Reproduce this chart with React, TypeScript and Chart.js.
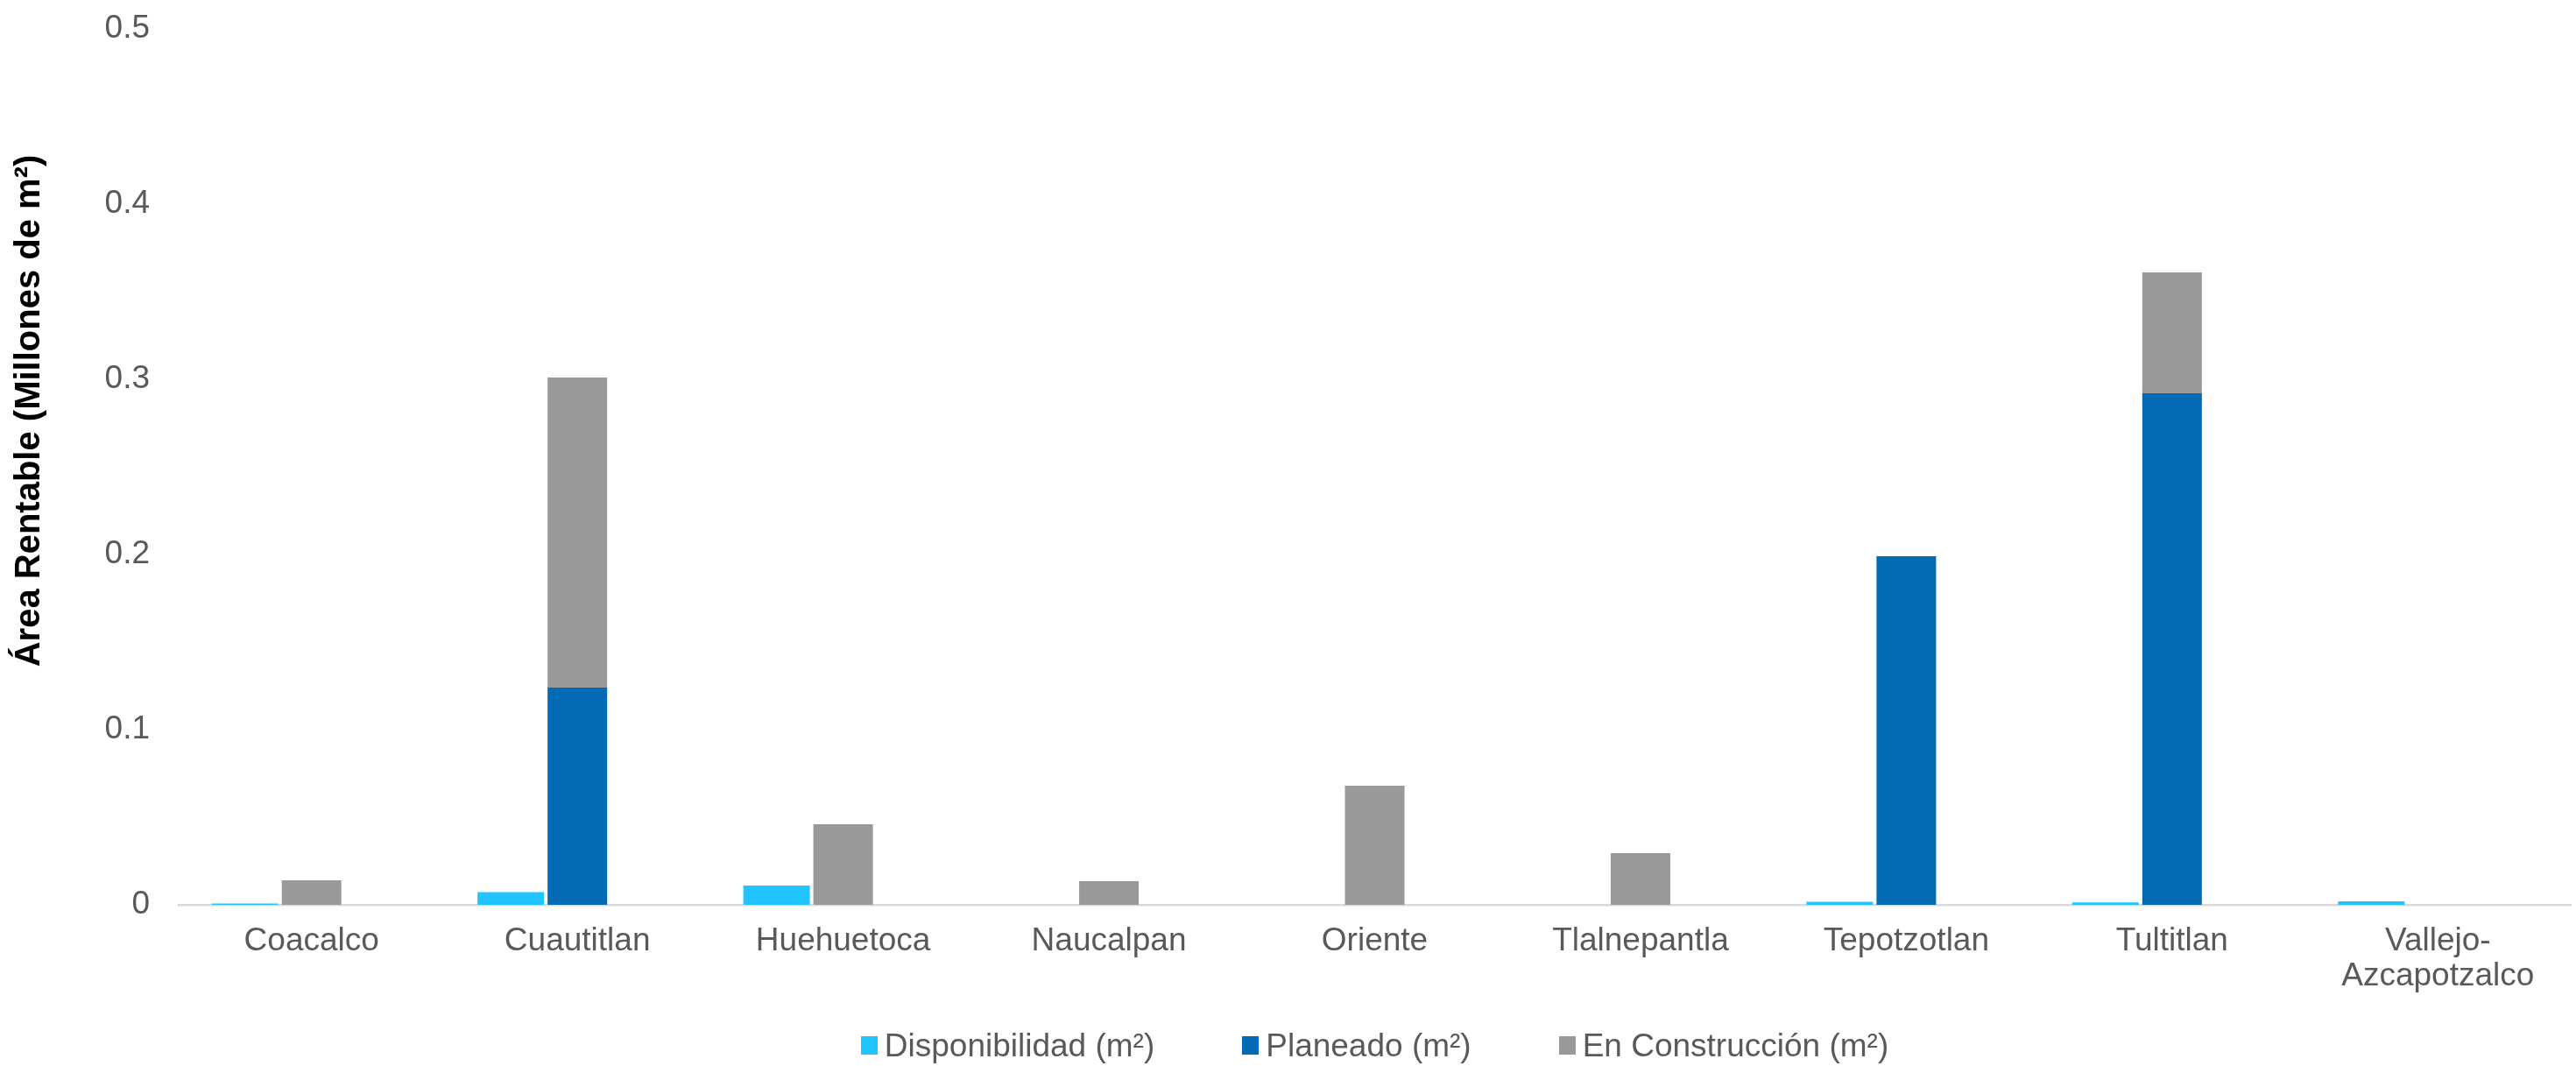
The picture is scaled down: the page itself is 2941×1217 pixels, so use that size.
import React, { useEffect, useRef } from "react";
import { Chart, registerables } from "chart.js";

Chart.register(...registerables);

// Municipalities along the x axis
const categories: (string | string[])[] = [
  "Coacalco",
  "Cuautitlan",
  "Huehuetoca",
  "Naucalpan",
  "Oriente",
  "Tlalnepantla",
  "Tepotzotlan",
  "Tultitlan",
  ["Vallejo-", "Azcapotzalco"],
];

// Rentable area, millions of m²
const disponibilidad = [0.0007, 0.0073, 0.011, 0, 0, 0, 0.0017, 0.0014, 0.002];
const planeado = [0, 0.124, 0, 0, 0, 0, 0.199, 0.292, 0];
const enConstruccion = [0.014, 0.177, 0.046, 0.0135, 0.068, 0.0295, 0, 0.069, 0];

const yTicks = [0, 0.1, 0.2, 0.3, 0.4, 0.5];

const seriesNames = ["Disponibilidad (m²)", "Planeado (m²)", "En Construcción (m²)"];
const seriesColors = ["#22C4FF", "#036BB5", "#999999"];

const FONT = "'Liberation Sans', Arial, sans-serif";
const W = 2941;
const H = 1217;
const AREA_LEFT = 204;
const AREA_RIGHT = 2935;
const AREA_TOP = 33;
const AREA_BOTTOM = 1033;

const yTitlePlugin = {
  id: "yTitle",
  afterDraw(chart: Chart) {
    const ctx = chart.ctx;
    ctx.save();
    ctx.translate(34, 469);
    ctx.rotate(-Math.PI / 2);
    ctx.font = `bold 40px ${FONT}`;
    ctx.fillStyle = "#000000";
    ctx.textAlign = "center";
    ctx.textBaseline = "middle";
    ctx.fillText("Área Rentable (Millones de m²)", 0, 0);
    ctx.restore();
  },
};

export default function App() {
  const canvasRef = useRef<HTMLCanvasElement | null>(null);

  useEffect(() => {
    document.body.style.margin = "0";
    const canvas = canvasRef.current;
    if (!canvas) return;
    const chart = new Chart(canvas, {
      type: "bar",
      data: {
        labels: categories,
        datasets: [
          {
            label: seriesNames[0],
            data: disponibilidad,
            backgroundColor: seriesColors[0],
            stack: "disp",
            categoryPercentage: 0.7513,
            barPercentage: 1.0,
          },
          {
            label: seriesNames[1],
            data: planeado,
            backgroundColor: seriesColors[1],
            stack: "proy",
            categoryPercentage: 0.7513,
            barPercentage: 0.895,
          },
          {
            label: seriesNames[2],
            data: enConstruccion,
            backgroundColor: seriesColors[2],
            stack: "proy",
            categoryPercentage: 0.7513,
            barPercentage: 0.895,
          },
          {
            label: "",
            data: categories.map(() => null),
            backgroundColor: "rgba(0,0,0,0)",
            stack: "vacio",
            categoryPercentage: 0.7513,
            barPercentage: 0.895,
          },
        ],
      },
      options: {
        responsive: false,
        animation: false,
        layout: { padding: { top: AREA_TOP, right: W - AREA_RIGHT, left: 0, bottom: 0 } },
        plugins: {
          legend: { display: false },
          tooltip: { enabled: false },
          title: { display: false },
        },
        scales: {
          x: {
            stacked: true,
            grid: { display: false, drawTicks: false },
            border: { display: true, color: "#D9D9D9", width: 2.5 },
            ticks: {
              color: "#595959",
              font: { family: FONT, size: 37, lineHeight: 1.1 },
              padding: 21,
              maxRotation: 0,
              autoSkip: false,
            },
            afterFit(scale: any) {
              scale.height = H - AREA_BOTTOM;
              scale.paddingLeft = 0;
              scale.paddingRight = 0;
            },
          },
          y: {
            stacked: true,
            min: 0,
            max: 0.5,
            grid: { display: false, drawTicks: false },
            border: { display: false },
            afterBuildTicks(scale: any) {
              scale.ticks = yTicks.map((v) => ({ value: v }));
            },
            ticks: {
              color: "#595959",
              font: { family: FONT, size: 37 },
              padding: 33,
              callback: (v: any) => String(Math.round(Number(v) * 10) / 10),
            },
            afterFit(scale: any) {
              scale.width = AREA_LEFT;
              scale.paddingTop = 0;
              scale.paddingBottom = 0;
            },
          },
        },
      },
      plugins: [yTitlePlugin],
    });
    return () => chart.destroy();
  }, []);

  return (
    <div style={{ position: "relative", width: W, height: H, background: "#ffffff" }}>
      <canvas ref={canvasRef} width={W} height={H} style={{ display: "block" }} />
      <div
        style={{
          position: "absolute",
          left: AREA_LEFT,
          width: AREA_RIGHT - AREA_LEFT,
          top: 1172,
          height: 42,
          display: "flex",
          justifyContent: "center",
          alignItems: "center",
          gap: 100,
          fontFamily: FONT,
          fontSize: 37,
          color: "#595959",
        }}
      >
        {seriesNames.map((name, i) => (
          <div key={name} style={{ display: "flex", alignItems: "center", gap: 8 }}>
            <span style={{ display: "inline-block", width: 19, height: 21, background: seriesColors[i] }} />
            <span style={{ lineHeight: 1 }}>{name}</span>
          </div>
        ))}
      </div>
    </div>
  );
}
